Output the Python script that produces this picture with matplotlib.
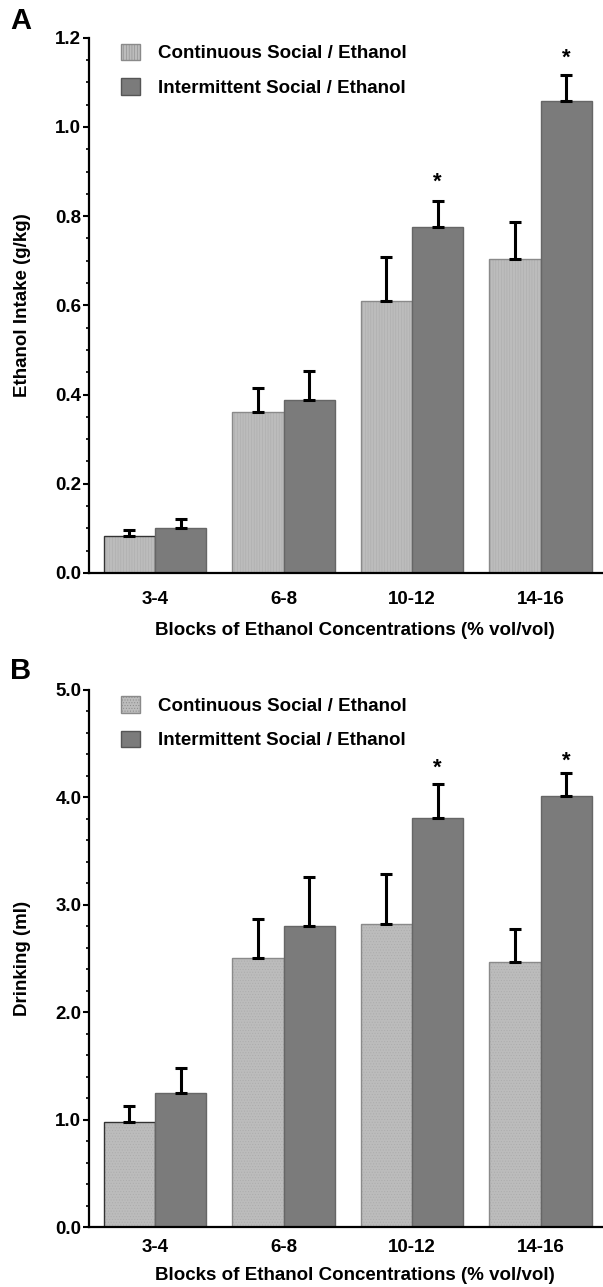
import numpy as np
import matplotlib
matplotlib.use("Agg")
from matplotlib import pyplot
from matplotlib.patches import Patch
from matplotlib.ticker import MultipleLocator, FormatStrFormatter

pyplot.rcParams['font.family'] = ['Liberation Sans', 'DejaVu Sans']
pyplot.rcParams['font.weight'] = 'bold'
pyplot.rcParams['hatch.linewidth'] = 0.4

blocks = ["3-4", "6-8", "10-12", "14-16"]
series = ["Continuous Social / Ethanol", "Intermittent Social / Ethanol"]

# panel A: ethanol intake (g/kg)
intake_cont = [0.083, 0.361, 0.609, 0.703]
intake_cont_err = [0.014, 0.054, 0.100, 0.084]
intake_int = [0.100, 0.388, 0.775, 1.059]
intake_int_err = [0.022, 0.065, 0.059, 0.058]
intake_stars = [None, None, 0.875, 1.153]

# panel B: drinking (ml)
drink_cont = [0.98, 2.50, 2.82, 2.47]
drink_cont_err = [0.145, 0.365, 0.47, 0.30]
drink_int = [1.245, 2.80, 3.81, 4.01]
drink_int_err = [0.24, 0.455, 0.31, 0.22]
drink_stars = [None, None, 4.27, 4.34]

light, dark = "#bcbcbc", "#7b7b7b"
FS = 13.5


def draw_panel(ax, cont, cont_err, inter, inter_err, stars, ymax, major, minor,
               ylabel, letter, hatch, xpad, xlab_y, letter_y):
    x = np.arange(len(blocks))
    w = 0.4
    # textured light bars (hatch drawn in a slightly darker grey)
    ax.bar(x - w / 2, cont, w, color=light, edgecolor="#acacac", hatch=hatch,
           linewidth=0, zorder=2)
    ax.bar(x - w / 2, cont, w, fill=False,
           edgecolor=["#333333", "#8a8a8a", "#8a8a8a", "#8a8a8a"],
           linewidth=1.0, zorder=3)
    ax.bar(x + w / 2, inter, w, color=dark, edgecolor="#666666",
           linewidth=1.0, zorder=3)
    ekw = dict(fmt="none", ecolor="black", elinewidth=2.2, capsize=4,
               capthick=2.2, zorder=4)
    ax.errorbar(x - w / 2, cont, yerr=[np.zeros(len(cont)), cont_err], **ekw)
    ax.errorbar(x + w / 2, inter, yerr=[np.zeros(len(inter)), inter_err], **ekw)
    for xi, s in zip(x, stars):
        if s is not None:
            ax.text(xi + w / 2, s, "*", ha="center", va="center",
                    fontsize=16, fontweight="bold")

    ax.set_xlim(-0.514, 3.486)
    ax.set_ylim(0, ymax)
    ax.set_xticks(x)
    ax.set_xticklabels(blocks)
    ax.yaxis.set_major_locator(MultipleLocator(major))
    ax.yaxis.set_minor_locator(MultipleLocator(minor))
    ax.yaxis.set_major_formatter(FormatStrFormatter("%.1f"))
    ax.tick_params(axis="x", length=0, pad=xpad, labelsize=FS)
    ax.tick_params(axis="y", which="major", length=4.5, width=1.5,
                   pad=1, labelsize=FS, direction="out")
    ax.tick_params(axis="y", which="minor", length=2.5, width=1.2,
                   direction="out")
    for side in ["top", "right"]:
        ax.spines[side].set_visible(False)
    for side in ["left", "bottom"]:
        ax.spines[side].set_linewidth(1.6)
    ax.spines["bottom"].set_zorder(5)

    ax.set_ylabel(ylabel, fontsize=FS, fontweight="bold")
    ax.yaxis.set_label_coords(-0.112, 0.5)
    ax.set_xlabel("Blocks of Ethanol Concentrations (% vol/vol)",
                  fontsize=FS, fontweight="bold")
    ax.xaxis.set_label_coords(0.517, xlab_y)

    handles = [Patch(facecolor=light, edgecolor="#8a8a8a", hatch=hatch,
                     linewidth=1.0),
               Patch(facecolor=dark, edgecolor="#555555", linewidth=1.0)]
    ax.legend(handles, series, loc="upper left", bbox_to_anchor=(0.048, 1.003),
              frameon=False, fontsize=FS, handlelength=1.0,
              handleheight=1.0, handletextpad=0.95, labelspacing=0.85,
              borderaxespad=0)
    ax.text(-0.154, letter_y, letter, transform=ax.transAxes, fontsize=21,
            fontweight="bold", ha="left", va="center")


fig = pyplot.figure(figsize=(6.03, 12.87), dpi=100)
ax_a = fig.add_axes([0.1476, 0.5548, 0.8524, 0.4159])
ax_b = fig.add_axes([0.1476, 0.0466, 0.8524, 0.4173])

draw_panel(ax_a, intake_cont, intake_cont_err, intake_int, intake_int_err,
           intake_stars, 1.2, 0.2, 0.05, "Ethanol Intake (g/kg)",
           "A", "||||||", 13, -0.0916, 1.032)
draw_panel(ax_b, drink_cont, drink_cont_err, drink_int, drink_int_err,
           drink_stars, 5.0, 1.0, 0.2, "Drinking (ml)", "B", "......",
           8.5, -0.0745, 1.036)

fig.savefig("out.png", dpi=100)
